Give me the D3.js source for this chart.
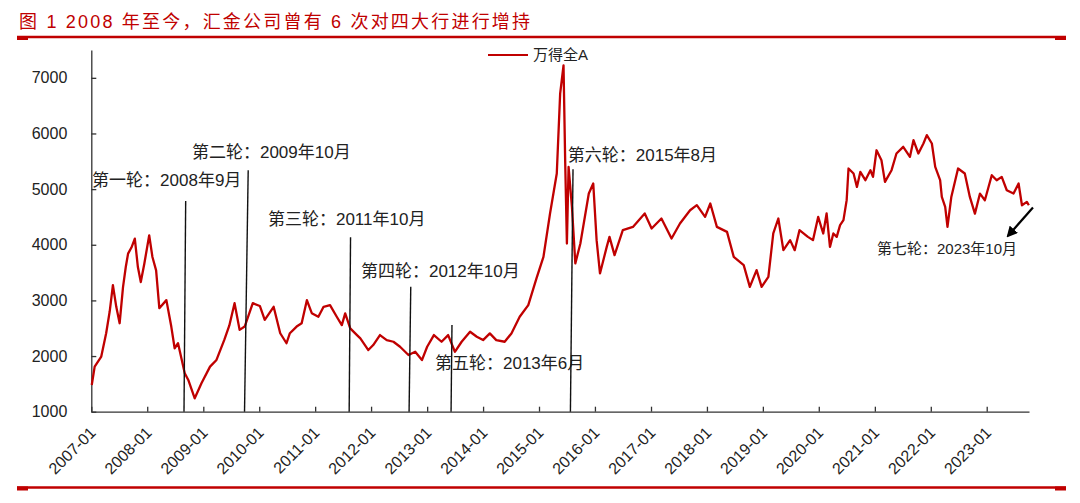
<!DOCTYPE html>
<html lang="zh">

<head>
    <meta charset="UTF-8">
    <title>wind-all-a</title>
    <script src="https://cdn.jsdelivr.net/npm/d3@7/dist/d3.min.js"></script>
    <style>
        body { margin: 0; background: #fff; }
        svg { display: block; }
        .axis path, .axis line { stroke: #333; stroke-width: 1.3; }
        .axis text { font-family: "Liberation Sans", Arial, sans-serif; fill: #222; }
    </style>
</head>

<body>
    <svg width="1080" height="503" id="mainsvg"></svg>
    <script>
        // 万得全A (one row per year)
        const dates = [
            '2007-01-04', '2007-01-23', '2007-03-07', '2007-04-08', '2007-05-01', '2007-05-22', '2007-06-13', '2007-07-05', '2007-07-27', '2007-08-14', '2007-08-29', '2007-09-20', '2007-10-12', '2007-11-01', '2007-11-20', '2007-12-13',
            '2008-01-14', '2008-02-04', '2008-02-28', '2008-03-20', '2008-05-05', '2008-06-06', '2008-06-28', '2008-07-20', '2008-09-02', '2008-09-25', '2008-11-06', '2008-12-20',
            '2009-02-14', '2009-03-28', '2009-05-18', '2009-06-20', '2009-07-24', '2009-08-26', '2009-09-28', '2009-11-20',
            '2010-01-05', '2010-02-06', '2010-04-05', '2010-05-18', '2010-06-28', '2010-07-20', '2010-09-02', '2010-10-05', '2010-11-08', '2010-12-10',
            '2011-01-22', '2011-02-25', '2011-04-08', '2011-05-22', '2011-06-24', '2011-07-16', '2011-08-18', '2011-10-01', '2011-10-23', '2011-12-14',
            '2012-01-15', '2012-02-28', '2012-04-12', '2012-05-26', '2012-07-08', '2012-09-01', '2012-10-15', '2012-11-28',
            '2013-01-01', '2013-02-14', '2013-04-05', '2013-05-18', '2013-07-01', '2013-08-14', '2013-10-08', '2013-11-21',
            '2014-01-01', '2014-02-14', '2014-03-28', '2014-05-22', '2014-07-05', '2014-08-28', '2014-10-23', '2014-12-16',
            '2015-01-30', '2015-03-14', '2015-04-27', '2015-05-19', '2015-06-10', '2015-06-21', '2015-07-02', '2015-07-13', '2015-08-04', '2015-08-26', '2015-09-28', '2015-11-22', '2015-12-21',
            '2016-01-12', '2016-02-03', '2016-03-18', '2016-04-05', '2016-05-08', '2016-07-01', '2016-09-05', '2016-11-21',
            '2017-01-05', '2017-03-10', '2017-05-15', '2017-07-09', '2017-09-13', '2017-10-27', '2017-12-20',
            '2018-01-23', '2018-03-07', '2018-05-12', '2018-06-25', '2018-08-29', '2018-10-08', '2018-11-21', '2018-12-24',
            '2019-02-06', '2019-03-10', '2019-04-12', '2019-05-15', '2019-06-28', '2019-07-28', '2019-08-28', '2019-10-22', '2019-11-24', '2019-12-28',
            '2020-01-30', '2020-02-21', '2020-03-14', '2020-04-05', '2020-04-27', '2020-05-19', '2020-06-10', '2020-07-01', '2020-07-13', '2020-08-15', '2020-09-06', '2020-09-28', '2020-10-31', '2020-12-03', '2020-12-20',
            '2021-01-12', '2021-02-13', '2021-03-08', '2021-04-20', '2021-05-22', '2021-07-05', '2021-08-18', '2021-09-10', '2021-10-12', '2021-11-14', '2021-12-06',
            '2022-01-08', '2022-01-30', '2022-03-03', '2022-03-14', '2022-04-05', '2022-04-20', '2022-05-15', '2022-06-28', '2022-08-11', '2022-09-13', '2022-10-16', '2022-11-18', '2022-12-20',
            '2023-02-03', '2023-03-07', '2023-04-09', '2023-05-12', '2023-06-25', '2023-07-28', '2023-08-19', '2023-09-20', '2023-10-03'
        ];
        const values = [
            1480, 1810, 1990, 2410, 2800, 3275, 2885, 2590, 3240, 3600, 3840, 3950, 4110, 3600, 3330, 3660,
            4170, 3780, 3540, 2860, 3005, 2530, 2140, 2230, 1690, 1570, 1240, 1510,
            1810, 1930, 2290, 2550, 2950, 2470, 2530, 2950,
            2900, 2650, 2885, 2410, 2230, 2410, 2530, 2590, 3005, 2770,
            2706, 2885, 2916, 2706, 2556, 2767, 2497, 2377, 2318, 2108,
            2198, 2377, 2287, 2257, 2167, 2018, 2077, 1928,
            2167, 2377, 2257, 2377, 2077, 2257, 2437, 2347,
            2287, 2407, 2287, 2257, 2407, 2706, 2916, 3400,
            3783, 4562, 5280, 6716, 7224, 5477, 4023, 5399, 4680, 3664, 4023, 4921, 5100,
            4083, 3485, 3962, 4142, 3813, 4262, 4321, 4562,
            4293, 4472, 4113, 4382, 4621, 4711, 4501,
            4741, 4321, 4232, 3783, 3634, 3244, 3544, 3244,
            3424, 4203, 4472, 3903, 4083, 3903, 4262, 4142, 4083, 4501,
            4203, 4562, 3962, 4203, 4142, 4352, 4442, 4801, 5370, 5280, 5040, 5309, 5160, 5339, 5219,
            5698, 5519, 5130, 5340, 5640, 5760, 5580, 5880, 5640, 5820, 5970,
            5820, 5400, 5160, 4860, 4680, 4320, 4860, 5370, 5280, 4860, 4560, 4920, 4800,
            5250, 5160, 5220, 4980, 4920, 5100, 4710, 4770, 4710
        ];

        const yTicks = [1000, 2000, 3000, 4000, 5000, 6000, 7000];
        const xTickYears = d3.range(2007, 2024);

        // 增持 annotations: line from axis (bottomDate) to (topDate, topValue)
        const roundLabels = ['第一轮：2008年9月', '第二轮：2009年10月', '第三轮：2011年10月',
            '第四轮：2012年10月', '第五轮：2013年6月', '第六轮：2015年8月'];
        const roundBottomDates = ['2008-08-28', '2009-09-27', '2011-08-11', '2012-09-05', '2013-06-06', '2015-07-25'];
        const roundTopDates = ['2008-09-08', '2009-10-21', '2011-08-20', '2012-09-16', '2013-06-12', '2015-08-11'];
        const roundTopValues = [4788, 5339, 4136, 3244, 2557, 5357];
        const labelDates = ['2007-01-06', '2008-10-19', '2010-02-27', '2011-10-27', '2013-02-21', '2015-07-08'];
        const labelValues = [5052, 5555, 4352, 3418, 1772, 5498];

        const lastLabel = '第七轮：2023年10月';
        const lastLabelAt = ['2021-01-15', 3831];
        const arrowFrom = ['2023-10-30', 4670];
        const arrowTo = ['2023-05-20', 4160];

        const parse = d3.timeParse('%Y-%m-%d');
        const data = dates.map((d, i) => ({ date: parse(d), value: values[i] }));

        const svg = d3.select('#mainsvg');
        const red = '#c00000';

        const x = d3.scaleTime()
            .domain([parse('2007-01-01'), parse('2023-10-04')])
            .range([91.3, 1029]);
        const y = d3.scaleLinear().domain([1000, 7500]).range([411.7, 50]);

        // title + rules
        svg.append('text').attr('x', 19).attr('y', 28)
            .attr('fill', red)
            .attr('font-family', '"Liberation Sans", "Noto Sans CJK SC", sans-serif')
            .attr('font-size', 18).attr('letter-spacing', 2.2)
            .text('图 1 2008 年至今，汇金公司曾有 6 次对四大行进行增持');

        function rule(yy) {
            svg.append('line').attr('x1', 17).attr('x2', 1066).attr('y1', yy).attr('y2', yy)
                .attr('stroke', red).attr('stroke-width', 2.4);
            svg.append('rect').attr('x', 17).attr('y', yy - 1).attr('width', 11).attr('height', 4).attr('fill', red);
            svg.append('rect').attr('x', 1055).attr('y', yy - 1).attr('width', 11).attr('height', 4).attr('fill', red);
        }
        rule(37);
        rule(487.5);

        // axes
        const xAxis = d3.axisBottom(x)
            .tickValues(xTickYears.map(yr => new Date(yr, 0, 1)))
            .tickFormat(d3.timeFormat('%Y-%m'))
            .tickSizeInner(-5).tickSizeOuter(0);
        const gx = svg.append('g').attr('class', 'axis')
            .attr('transform', `translate(0, ${y(1000)})`).call(xAxis);
        gx.selectAll('.tick text')
            .attr('font-size', 16)
            .attr('text-anchor', 'end')
            .attr('y', 0).attr('dy', 0)
            .attr('transform', 'translate(5, 22) rotate(-45)');

        const yAxis = d3.axisLeft(y).tickValues(yTicks)
            .tickSizeInner(-5).tickSizeOuter(0).tickPadding(24)
            .tickFormat(d3.format('d'));
        const gy = svg.append('g').attr('class', 'axis')
            .attr('transform', `translate(${x.range()[0]}, 0)`).call(yAxis);
        gy.selectAll('.tick text').attr('font-size', 16);

        // series
        const line = d3.line().x(d => x(d.date)).y(d => y(d.value));
        svg.append('path').datum(data)
            .attr('d', line)
            .attr('fill', 'none')
            .attr('stroke', red)
            .attr('stroke-width', 2.3)
            .attr('stroke-linejoin', 'round');

        // round markers
        const annoFont = '"Liberation Sans", "Noto Sans CJK SC", sans-serif';
        roundLabels.forEach((lab, i) => {
            svg.append('line')
                .attr('x1', x(parse(roundBottomDates[i]))).attr('y1', y(1000))
                .attr('x2', x(parse(roundTopDates[i]))).attr('y2', y(roundTopValues[i]))
                .attr('stroke', '#111').attr('stroke-width', 1.4);
            svg.append('text')
                .attr('x', x(parse(labelDates[i]))).attr('y', y(labelValues[i]))
                .attr('font-family', annoFont).attr('font-size', 17).attr('fill', '#222')
                .text(lab);
        });

        svg.append('defs').append('marker')
            .attr('id', 'head').attr('viewBox', '0 0 10 10')
            .attr('refX', 8).attr('refY', 5)
            .attr('markerWidth', 5).attr('markerHeight', 5)
            .attr('orient', 'auto')
            .append('path').attr('d', 'M0,0 L10,5 L0,10 z').attr('fill', '#000');
        svg.append('line')
            .attr('x1', x(parse(arrowFrom[0]))).attr('y1', y(arrowFrom[1]))
            .attr('x2', x(parse(arrowTo[0]))).attr('y2', y(arrowTo[1]))
            .attr('stroke', '#000').attr('stroke-width', 2.2)
            .attr('marker-end', 'url(#head)');
        svg.append('text')
            .attr('x', x(parse(lastLabelAt[0]))).attr('y', y(lastLabelAt[1]))
            .attr('font-family', annoFont).attr('font-size', 15).attr('fill', '#222')
            .text(lastLabel);

        // legend
        svg.append('line').attr('x1', 488).attr('x2', 528).attr('y1', 55).attr('y2', 55)
            .attr('stroke', red).attr('stroke-width', 2);
        svg.append('text').attr('x', 533).attr('y', 60)
            .attr('font-family', annoFont).attr('font-size', 15).attr('fill', '#222')
            .text('万得全A');
    </script>
</body>

</html>
